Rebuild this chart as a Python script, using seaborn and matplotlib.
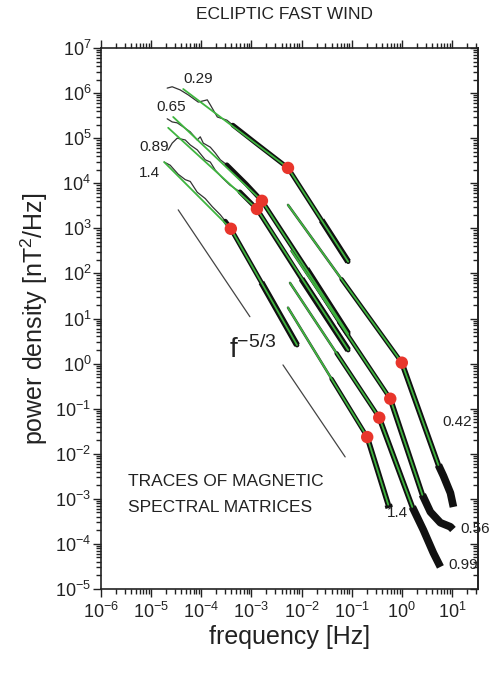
import numpy as np
import pandas as pd
import seaborn as sns
import matplotlib
matplotlib.use('Agg')
import matplotlib.pyplot as plt
from matplotlib.ticker import FixedLocator, NullFormatter

# all values are log10(frequency [Hz]) and log10(power [nT^2/Hz])

# low frequency spectra: jagged thin start, then the noisy part up to the end
lf_names = ['0.29', '0.65', '0.89', '1.4']
lf029_f = [-4.68, -4.58, -4.42, -4.26, -4.06, -3.88, -3.82, -3.68, -3.49, -3.37, -2.9, -2.27, -1.6, -1.07]
lf029_p = [6.11, 6.14, 6.07, 5.96, 5.80, 5.85, 5.74, 5.47, 5.40, 5.29, 4.88, 4.34, 3.18, 2.26]
lf065_f = [-4.68, -4.58, -4.48, -4.36, -4.22, -4.08, -4.02, -3.96, -3.82, -3.72, -3.62, -3.49, -3.1, -2.79, -1.9, -1.07]
lf065_p = [5.43, 5.36, 5.34, 5.25, 5.14, 4.96, 5.03, 4.89, 4.80, 4.67, 4.52, 4.41, 3.98, 3.61, 2.10, 0.66]
lf089_f = [-4.66, -4.58, -4.48, -4.32, -4.22, -4.08, -3.92, -3.82, -3.72, -3.58, -3.43, -3.23, -2.89, -2.0, -1.07]
lf089_p = [4.74, 4.89, 5.00, 4.96, 4.85, 4.74, 4.52, 4.47, 4.29, 4.12, 3.96, 3.81, 3.43, 1.88, 0.30]
lf14_f = [-4.74, -4.62, -4.46, -4.32, -4.22, -4.08, -3.92, -3.78, -3.62, -3.52, -3.41, -2.8, -2.09]
lf14_p = [4.47, 4.40, 4.20, 4.08, 4.04, 3.80, 3.66, 3.48, 3.30, 3.16, 2.99, 1.80, 0.41]
lf_thin_end = [-3.37, -3.49, -3.23, -3.52]   # where the trace turns into a thick band

# fits (green): start, break, end
lf_fit_f = [[-4.36, -2.27, -1.07], [-4.56, -2.79, -1.07], [-4.66, -2.89, -1.07], [-4.74, -3.41, -2.09]]
lf_fit_p = [[6.09, 4.34, 2.26], [5.47, 3.61, 0.66], [5.23, 3.43, 0.30], [4.47, 2.99, 0.41]]

# high frequency spectra
hf_names = ['0.42', '0.56', '0.99', '1.4']
hf_fit_f = [[-2.27, 0.0, 0.73], [-2.2, -0.23, 0.41], [-2.23, -0.45, 0.21], [-2.27, -0.69, -0.27]]
hf_fit_p = [[3.52, 0.02, -2.25], [2.5, -0.78, -2.91], [1.79, -1.20, -3.18], [1.24, -1.63, -3.13]]
hf_mid_f = [-1.2, -1.25, -1.3, -1.4]         # black gets thicker from here
hf_tail_f = [[0.73, 0.83, 0.97, 1.03], [0.41, 0.57, 0.77, 0.97, 1.02], [0.21, 0.43, 0.63, 0.77], [-0.27, -0.25]]
hf_tail_p = [[-2.25, -2.49, -2.87, -3.18], [-2.91, -3.29, -3.53, -3.62, -3.68], [-3.18, -3.69, -4.20, -4.51], [-3.13, -3.2]]

# reference slopes and labels
ref1_f, ref1_p = [-4.46, -3.03], [3.41, 1.04]
ref2_f, ref2_p = [-2.37, -1.13], [-0.03, -2.07]
lf_lab_f, lf_lab_p = [-4.06, -4.60, -4.94, -5.04], [6.31, 5.69, 4.80, 4.23]
hf_lab_f, hf_lab_p = [1.11, 1.47, 1.23, -0.09], [-1.29, -3.67, -4.46, -3.31]

sns.set_theme(style='ticks')
plt.rcParams['font.family'] = ['Liberation Sans', 'DejaVu Sans']
plt.rcParams['mathtext.default'] = 'regular'

fig = plt.figure(figsize=(4.9, 6.78), dpi=100)
ax = fig.add_axes([101/490, 1-589/678, 377/490, 541/678])
ax.set_xscale('log')
ax.set_yscale('log')

GREEN = '#3fb53f'
RED = '#e8352b'
BLACK = '#111111'


def line(fe, pe, **kw):
    d = pd.DataFrame({'f': 10.0**np.array(fe), 'p': 10.0**np.array(pe)})
    sns.lineplot(data=d, x='f', y='p', sort=False, estimator=None, ax=ax, legend=False, **kw)


lf_f = [lf029_f, lf065_f, lf089_f, lf14_f]
lf_p = [lf029_p, lf065_p, lf089_p, lf14_p]
for fe, pe, cut in zip(lf_f, lf_p, lf_thin_end):
    fe, pe = np.array(fe), np.array(pe)
    thin = fe <= cut + 1e-9
    line(fe[thin], pe[thin], color='#333333', lw=0.9)
    thick = fe >= cut - 1e-9
    line(fe[thick], pe[thick], color=BLACK, lw=3.4)
    line(fe[-2:], pe[-2:], color=BLACK, lw=4.5, solid_capstyle='butt')

for fe, pe, mid in zip(hf_fit_f, hf_fit_p, hf_mid_f):
    pm = np.interp(mid, fe[:2], pe[:2])
    line([fe[0], mid], [pe[0], pm], color='#333333', lw=1.8)
    line([mid, fe[1]], [pm, pe[1]], color=BLACK, lw=3.2)
    line(fe[1:], pe[1:], color=BLACK, lw=4)
for fe, pe in zip(hf_tail_f, hf_tail_p):
    line(fe, pe, color=BLACK, lw=5.5, solid_capstyle='butt')

for fe, pe in zip(lf_fit_f + hf_fit_f, lf_fit_p + hf_fit_p):
    line(fe, pe, color=GREEN, lw=1.3)

brk_f = [f[1] for f in lf_fit_f + hf_fit_f]
brk_p = [p[1] for p in lf_fit_p + hf_fit_p]
sns.scatterplot(x=10.0**np.array(brk_f), y=10.0**np.array(brk_p), color=RED, s=80,
                edgecolor='none', zorder=5, ax=ax, legend=False)

line(ref1_f, ref1_p, color='#444444', lw=0.9)
line(ref2_f, ref2_p, color='#444444', lw=0.9)

for n, x, y in zip(lf_names + hf_names, lf_lab_f + hf_lab_f, lf_lab_p + hf_lab_p):
    ax.text(10**x, 10**y, n, fontsize=11, ha='center', va='center', color='#222222')
ax.text(10**-3.45, 10**0.30, r'f$^{-5/3}$', fontsize=20, ha='left', va='center', color='#222222')
ax.text(10**-5.46, 10**-2.62, 'TRACES OF MAGNETIC', fontsize=12.5, ha='left', va='center', color='#222222')
ax.text(10**-5.46, 10**-3.20, 'SPECTRAL MATRICES', fontsize=12.5, ha='left', va='center', color='#222222')

ax.set_xlim(1e-6, 10**1.52)
ax.set_ylim(1e-5, 1e7)

xmaj = [10.0**k for k in range(-6, 2)]
ymaj = [10.0**k for k in range(-5, 8)]
ax.xaxis.set_major_locator(FixedLocator(xmaj))
ax.yaxis.set_major_locator(FixedLocator(ymaj))
ax.xaxis.set_minor_locator(FixedLocator([m * 10.0**k for k in range(-6, 2) for m in range(2, 10)]))
ax.yaxis.set_minor_locator(FixedLocator([m * 10.0**k for k in range(-5, 7) for m in range(2, 10)]))
ax.set_xticklabels([r'$10^{%d}$' % k for k in range(-6, 2)])
ax.set_yticklabels([r'$10^{%d}$' % k for k in range(-5, 8)])
ax.yaxis.set_minor_formatter(NullFormatter())
ax.xaxis.set_minor_formatter(NullFormatter())
ax.tick_params(which='both', direction='out', top=True, right=False, labelsize=13, color='#222222',
               labelcolor='#222222', width=1)
ax.tick_params(which='major', length=6)
ax.tick_params(which='minor', length=3.5)
ax.tick_params(axis='y', which='both', pad=1)

sec = ax.secondary_yaxis('right')
sec.yaxis.set_major_locator(FixedLocator(ymaj))
sec.yaxis.set_minor_locator(FixedLocator([m * 10.0**k for k in range(-5, 7) for m in range(2, 10)]))
sec.tick_params(which='both', direction='in', labelright=False, color='#222222', width=1)
sec.tick_params(which='major', length=6)
sec.tick_params(which='minor', length=3.5)
sec.set_yticklabels([])

for s in ax.spines.values():
    s.set_linewidth(1.2)
    s.set_color('#222222')
sec.spines['right'].set_linewidth(1.2)

ax.set_xlabel('frequency [Hz]', fontsize=18, color='#222222', labelpad=2)
ax.set_ylabel(r'power density [nT$^2$/Hz]', fontsize=18, color='#222222', labelpad=4)
fig.text(0.58, 0.978, 'ECLIPTIC FAST WIND', fontsize=12.5, ha='center', va='center', color='#222222')

fig.savefig('out.png', dpi=100)
